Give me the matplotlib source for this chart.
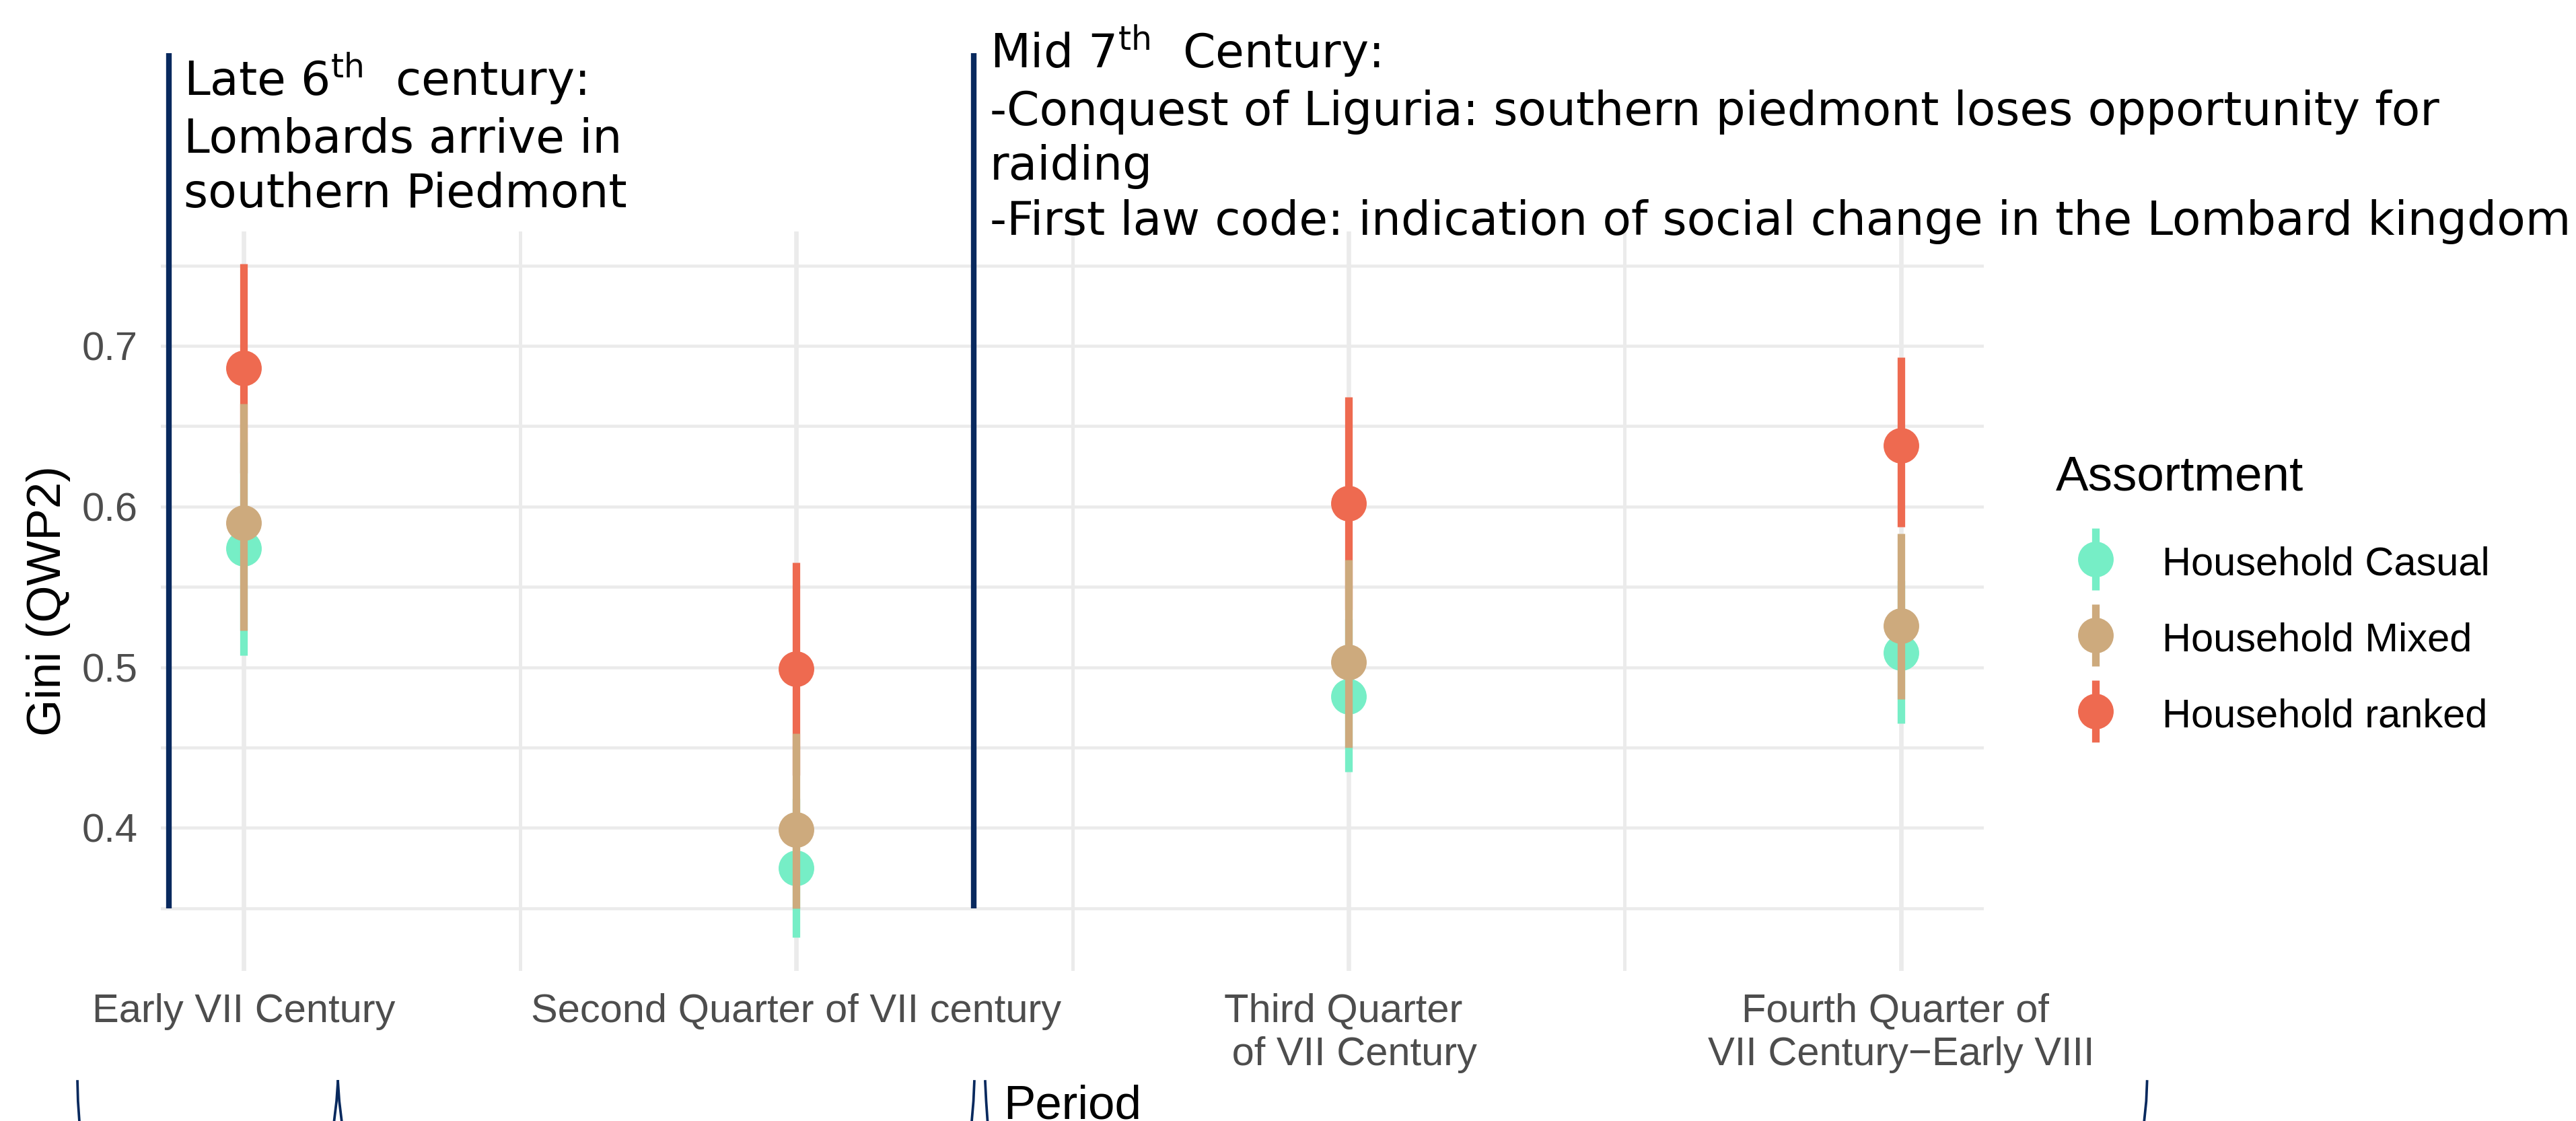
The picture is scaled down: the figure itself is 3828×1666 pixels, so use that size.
import matplotlib
matplotlib.use("Agg")
import matplotlib.pyplot as plt
from matplotlib.lines import Line2D

plt.rcParams['font.family'] = ['Liberation Sans', 'DejaVu Sans']
plt.rcParams['mathtext.fontset'] = 'dejavusans'

# data
periods = ["Early VII Century", "Second Quarter of VII century",
           "Third Quarter \n of VII Century", "Fourth Quarter of \nVII Century\u2212Early VIII"]
series = ["Household Casual", "Household Mixed", "Household ranked"]

casual_mid = [0.574, 0.375, 0.482, 0.509]
casual_lo = [0.5075, 0.332, 0.435, 0.465]
casual_hi = [0.640, 0.418, 0.530, 0.554]

mixed_mid = [0.590, 0.399, 0.503, 0.526]
mixed_lo = [0.523, 0.350, 0.450, 0.480]
mixed_hi = [0.664, 0.459, 0.567, 0.583]

ranked_mid = [0.686, 0.499, 0.602, 0.638]
ranked_lo = [0.621, 0.433, 0.536, 0.5875]
ranked_hi = [0.751, 0.565, 0.668, 0.693]

colors = {"Household Casual": "#76EEC6", "Household Mixed": "#CDAA7D", "Household ranked": "#EE6A50"}
navy = "#08295E"

# event annotations (x in category units)
events_x = [0.864, 2.322]
events_text = ["Late 6$^{\\mathrm{th}}$  century:\nLombards arrive in\nsouthern Piedmont",
               "Mid 7$^{\\mathrm{th}}$  Century:\n-Conquest of Liguria: southern piedmont loses opportunity for\n"
               "raiding\n-First law code: indication of social change in the Lombard kingdom"]

fig = plt.figure(figsize=(3828 / 300, 1666 / 300), dpi=300)
ax = fig.add_axes([0.06244, 0.13385, 0.70768, 0.65966])

xs = [1, 2, 3, 4]
z = 3
for name, mid, lo, hi in [("Household ranked", ranked_mid, ranked_lo, ranked_hi),
                          ("Household Casual", casual_mid, casual_lo, casual_hi),
                          ("Household Mixed", mixed_mid, mixed_lo, mixed_hi)]:
    ax.vlines(xs, lo, hi, color=colors[name], lw=2.7, zorder=z)
    ax.plot(xs, mid, 'o', color=colors[name], ms=12.7, mew=0, zorder=z + 0.5)
    z += 1

ax.set_xlim(0.85, 4.15)
ax.set_ylim(0.311, 0.7712)
ax.set_xticks(xs)
ax.set_xticklabels(periods, fontsize=14.3, color='#4D4D4D', linespacing=1.2)
ax.set_xticks([1.5, 2.5, 3.5], minor=True)
ax.set_yticks([0.4, 0.5, 0.6, 0.7])
ax.set_yticklabels(["0.4", "0.5", "0.6", "0.7"], fontsize=14.3, color='#4D4D4D')
ax.set_yticks([0.35, 0.45, 0.55, 0.65, 0.75], minor=True)
ax.tick_params(axis='both', which='both', length=0)
ax.tick_params(axis='x', pad=8)
ax.tick_params(axis='y', pad=8.3)
ax.grid(axis='y', which='both', color='#EBEBEB', lw=1.1)
ax.grid(axis='x', which='major', color='#EBEBEB', lw=1.6)
ax.grid(axis='x', which='minor', color='#EBEBEB', lw=1.2)
ax.set_axisbelow(True)
for s in ax.spines.values():
    s.set_visible(False)

ax.set_ylabel("Gini (QWP2)", fontsize=17, labelpad=4)
ax.set_xlabel("Period", fontsize=17, labelpad=4)

# event markers and text
for ex in events_x:
    ax.plot([ex, ex], [0.35, 0.882], color=navy, lw=2, solid_capstyle='butt', clip_on=False, zorder=6)
ax.text(0.8916, 0.832, events_text[0], ha='left', va='center', fontsize=16.7,
        family='DejaVu Sans', linespacing=1.28, clip_on=False)
ax.text(2.351, 0.832, events_text[1], ha='left', va='center', fontsize=16.7,
        family='DejaVu Sans', linespacing=1.28, clip_on=False)

# cut-off bracket pieces along the bottom edge
brackets = [([0.699, 0.700, 0.704], [0.2423, 0.23, 0.21]),
            ([1.1705, 1.168, 1.161], [0.2423, 0.23, 0.21]),
            ([1.1705, 1.173, 1.180], [0.2423, 0.23, 0.21]),
            ([2.3226, 2.321, 2.316], [0.2423, 0.23, 0.21]),
            ([2.3422, 2.344, 2.348], [0.2423, 0.23, 0.21]),
            ([4.4455, 4.444, 4.438], [0.2423, 0.23, 0.21])]
for bx, by in brackets:
    ax.plot(bx, by, color=navy, lw=0.9, clip_on=False)

# legend
handles = []
for name in series:
    bar = Line2D([], [], marker='|', markersize=22, markeredgewidth=2.7, color=colors[name], linestyle='none')
    dot = Line2D([], [], marker='o', markersize=12.7, markeredgewidth=0, color=colors[name], linestyle='none')
    handles.append((bar, dot))
leg = fig.legend(handles, series, title="Assortment", loc='upper left', bbox_to_anchor=(0.798, 0.5942),
                 frameon=False, fontsize=14.3, title_fontsize=17.5, handlelength=2.0, handleheight=0.98,
                 labelspacing=0.914, handletextpad=0.66, borderpad=0, borderaxespad=0, numpoints=1,
                 alignment='left')
# a bit more room between title and keys
leg._legend_box.sep = 0.914 * 14.3 + 2.4

fig.savefig("out.png", dpi=300)
